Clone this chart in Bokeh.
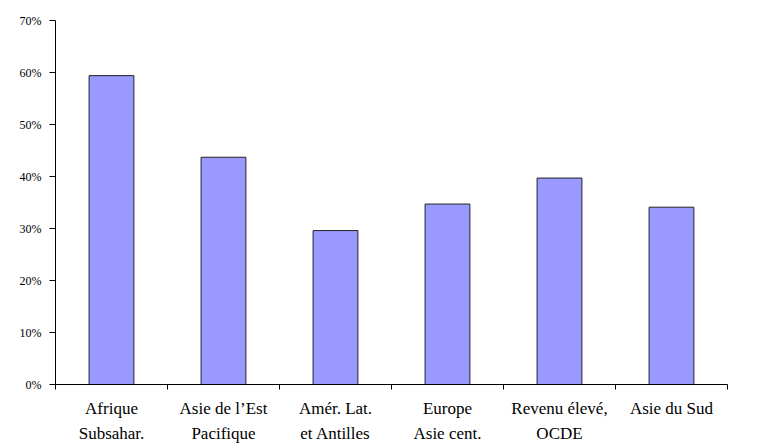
from bokeh.plotting import figure
from bokeh.models import FixedTicker, NumeralTickFormatter, Range1d, ColumnDataSource
from bokeh.embed import file_html
from bokeh.resources import INLINE

categories = ["Afrique\nSubsahar.", "Asie de l’Est\nPacifique", "Amér. Lat.\net Antilles",
              "Europe\nAsie cent.", "Revenu élevé,\nOCDE", "Asie du Sud"]
values = [0.594, 0.437, 0.296, 0.347, 0.397, 0.341]
y_ticks = [0, 0.1, 0.2, 0.3, 0.4, 0.5, 0.6, 0.7]

n = len(categories)
centers = [i + 0.5 for i in range(n)]
src = ColumnDataSource(dict(x=centers, top=values))

p = figure(width=768, height=446, output_backend="svg", toolbar_location=None,
           x_range=Range1d(0, n), y_range=Range1d(0, 0.7),
           min_border_left=55, min_border_right=41, min_border_top=20, min_border_bottom=60)
p.vbar(x="x", top="top", width=0.4, source=src, fill_color="#9999FF",
       line_color="#222222", line_width=1)

p.grid.visible = False
p.outline_line_color = None
p.background_fill_color = "white"

p.xaxis.ticker = FixedTicker(ticks=centers, minor_ticks=list(range(n + 1)))
p.xaxis.major_label_overrides = {c: lab for c, lab in zip(centers, categories)}
p.xaxis.major_tick_out = 0
p.xaxis.major_tick_in = 0
p.xaxis.minor_tick_out = 5
p.xaxis.minor_tick_in = 0
p.xaxis.minor_tick_line_color = "black"
p.xaxis.axis_line_color = "black"
p.xaxis.major_label_text_font = "Liberation Serif"
p.xaxis.major_label_text_font_size = "17px"
p.xaxis.major_label_text_line_height = 1.35
p.xaxis.major_label_text_color = "black"
p.xaxis.major_label_standoff = 9

p.yaxis.ticker = FixedTicker(ticks=y_ticks)
p.yaxis.formatter = NumeralTickFormatter(format="0%")
p.yaxis.major_tick_out = 6
p.yaxis.major_tick_in = 0
p.yaxis.minor_tick_line_color = None
p.yaxis.axis_line_color = "black"
p.yaxis.major_tick_line_color = "black"
p.yaxis.major_label_text_font = "Liberation Serif"
p.yaxis.major_label_text_font_size = "12px"
p.yaxis.major_label_text_color = "black"
p.yaxis.major_label_standoff = 8

open("out.html", "w").write(file_html(p, INLINE))
